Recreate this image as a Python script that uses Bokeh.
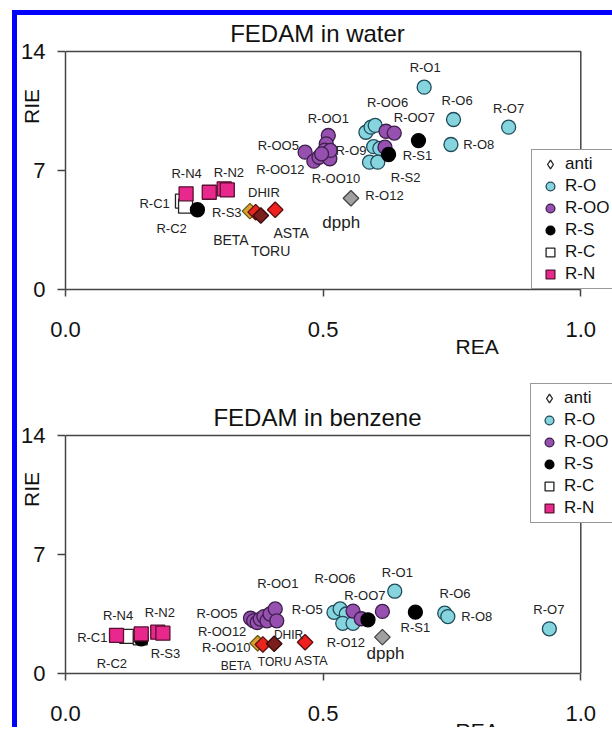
import math
from bokeh.plotting import figure
from bokeh.models import (Range1d, FixedTicker, NumeralTickFormatter, Legend, LegendItem, Label,
                          ColumnDataSource, Title)
from bokeh.layouts import column
from bokeh.embed import file_html
from bokeh.resources import INLINE
from bokeh.core.properties import value

FONT = "Liberation Sans"

# ---------------- data: FEDAM in water ----------------
water_anti_names = ["BETA", "DHIR", "TORU", "ASTA", "dpph"]
water_anti_rea = [0.358, 0.369, 0.379, 0.407, 0.554]
water_anti_rie = [4.61, 4.55, 4.35, 4.69, 5.37]

water_ro_rea = [0.696, 0.753, 0.860, 0.748, 0.583, 0.593, 0.601, 0.598, 0.610, 0.590, 0.606]
water_ro_rie = [11.9, 10.0, 9.55, 8.53, 9.25, 9.55, 9.65, 8.40, 8.30, 7.49, 7.49]

water_roo_rea = [0.510, 0.506, 0.503, 0.465, 0.482, 0.492, 0.513, 0.514, 0.497, 0.622, 0.638, 0.620]
water_roo_rie = [9.06, 8.57, 8.20, 8.08, 7.55, 7.78, 7.69, 8.18, 7.98, 9.31, 9.20, 8.37]

water_rs_rea = [0.685, 0.627, 0.256]
water_rs_rie = [8.76, 7.94, 4.69]

water_rc_rea = [0.227, 0.233]
water_rc_rie = [5.20, 4.90]

water_rn_rea = [0.234, 0.279, 0.308, 0.314]
water_rn_rie = [5.63, 5.72, 5.92, 5.86]

water_lbl_text = ["R-O1", "R-OO6", "R-O6", "R-O7", "R-OO1", "R-OO7", "R-OO5", "R-O9", "R-S1", "R-O8",
                  "R-OO12", "R-OO10", "R-S2", "R-O12", "R-N4", "R-N2", "DHIR", "R-C1", "R-S3", "R-C2"]
water_lbl_rea = [0.698, 0.625, 0.760, 0.860, 0.510, 0.677, 0.413, 0.554, 0.683, 0.802,
                 0.417, 0.525, 0.660, 0.619, 0.235, 0.317, 0.385, 0.173, 0.313, 0.206]
water_lbl_rie = [13.06, 11.0, 11.12, 10.65, 10.06, 10.12, 8.47, 8.18, 7.88, 8.53,
                 7.06, 6.53, 6.59, 5.53, 6.82, 6.88, 5.71, 5.06, 4.53, 3.59]
water_big_text = ["BETA", "ASTA", "TORU"]
water_big_rea = [0.321, 0.438, 0.398]
water_big_rie = [2.94, 3.35, 2.24]
water_dpph_rea = [0.535]
water_dpph_rie = [3.94]

# ---------------- data: FEDAM in benzene ----------------
benz_anti_names = ["BETA", "DHIR", "TORU", "ASTA", "dpph"]
benz_anti_rea = [0.373, 0.383, 0.405, 0.465, 0.615]
benz_anti_rie = [1.78, 1.71, 1.75, 1.84, 2.14]

benz_ro_rea = [0.639, 0.736, 0.742, 0.939, 0.521, 0.533, 0.545, 0.538, 0.558]
benz_ro_rie = [4.84, 3.55, 3.35, 2.63, 3.60, 3.80, 3.50, 2.95, 2.95]

benz_roo_rea = [0.359, 0.365, 0.372, 0.378, 0.385, 0.391, 0.397, 0.407, 0.410, 0.558, 0.574, 0.615]
benz_roo_rie = [3.25, 3.10, 3.00, 3.20, 3.35, 3.10, 3.50, 3.80, 3.10, 3.67, 3.22, 3.65]

benz_rs_rea = [0.679, 0.587, 0.147]
benz_rs_rie = [3.61, 3.16, 2.04]

benz_rc_rea = [0.119, 0.145]
benz_rc_rie = [2.18, 2.10]

benz_rn_rea = [0.099, 0.147, 0.179, 0.189]
benz_rn_rie = [2.24, 2.33, 2.43, 2.37]

benz_lbl_text = ["R-OO1", "R-OO5", "R-OO12", "R-OO10", "R-N4", "R-N2", "R-C1", "R-C2", "R-S3", "R-O5",
                 "R-O12", "R-OO6", "R-OO7", "R-O1", "R-O6", "R-S1", "R-O8", "R-O7", "ASTA"]
benz_lbl_rea = [0.412, 0.294, 0.304, 0.312, 0.102, 0.183, 0.052, 0.090, 0.194, 0.469,
                0.544, 0.523, 0.581, 0.644, 0.756, 0.679, 0.798, 0.938, 0.477]
benz_lbl_rie = [5.29, 3.53, 2.47, 1.53, 3.41, 3.59, 2.12, 0.59, 1.18, 3.76,
                1.82, 5.59, 4.59, 5.94, 4.71, 2.71, 3.35, 3.76, 0.76]
benz_big_text = ["BETA", "TORU", "DHIR"]
benz_big_rea = [0.331, 0.406, 0.433]
benz_big_rie = [0.47, 0.65, 2.29]
benz_dpph_rea = [0.621]
benz_dpph_rie = [1.18]

x_ticks = [0.0, 0.5, 1.0]
y_ticks = [0, 7, 14]

# ---------------- styles ----------------
anti_fill = {"BETA": "#D9A030", "DHIR": "#E8261E", "TORU": "#7B1E1E", "ASTA": "#F02020", "dpph": "#A0A0A0"}
anti_edge = {"BETA": "#6B5A10", "DHIR": "#5A1010", "TORU": "#3A0A0A", "ASTA": "#5A1010", "dpph": "#444444"}
CYAN, CYAN_E = "#86D4DE", "#1F4A5A"
PURP, PURP_E = "#9650AF", "#3D1F4A"
PINK, PINK_E = "#E8288C", "#5A1030"
AX = "#444444"

PX_PER_X = 520.0   # pixels per REA unit
PX_PER_Y = 17.0    # pixels per RIE unit
FRAME_W = 552      # frame runs to the right edge of the page
BOX_H = 238        # height of the drawn plot box (0..14)
LEFT = 43
BOTTOM = 85


def make_panel(d, frame_h, title, legend_xy, transparent):
    p = figure(width=LEFT + FRAME_W, height=frame_h + BOTTOM,
               x_range=Range1d(0, FRAME_W / PX_PER_X), y_range=Range1d(0, frame_h / PX_PER_Y),
               output_backend="svg", toolbar_location=None,
               min_border_left=LEFT, min_border_right=0,
               min_border_top=0, min_border_bottom=BOTTOM)
    p.xgrid.grid_line_color = None
    p.ygrid.grid_line_color = None
    p.outline_line_color = None
    if transparent:
        p.background_fill_alpha = 0
        p.border_fill_alpha = 0
    else:
        p.background_fill_color = "white"
        p.border_fill_color = "white"

    p.xaxis.ticker = FixedTicker(ticks=x_ticks)
    p.xaxis.formatter = NumeralTickFormatter(format="0.0")
    p.yaxis.ticker = FixedTicker(ticks=y_ticks)
    p.xaxis.bounds = (x_ticks[0], x_ticks[-1])
    p.yaxis.bounds = (y_ticks[0], y_ticks[-1])
    for ax in (p.xaxis[0], p.yaxis[0]):
        ax.axis_line_color = AX
        ax.axis_line_width = 1.5
        ax.major_tick_line_color = AX
        ax.major_tick_line_width = 1.5
        ax.minor_tick_line_color = None
        ax.major_tick_in = 0
        ax.major_label_text_font = FONT
        ax.major_label_text_font_size = "22px"
        ax.major_label_text_color = "#111111"
    p.xaxis.major_tick_out = 7
    p.xaxis.major_label_standoff = 25
    p.yaxis.major_tick_out = 8
    p.yaxis.major_label_standoff = 12
    p.yaxis.axis_label = "RIE"
    p.yaxis.axis_label_text_font = FONT
    p.yaxis.axis_label_text_font_size = "21px"
    p.yaxis.axis_label_text_font_style = "normal"
    p.yaxis.axis_label_text_color = "#111111"
    p.yaxis.axis_label_standoff = -25

    # top and right edges of the plot box
    p.line([x_ticks[0], x_ticks[-1], x_ticks[-1]], [y_ticks[-1], y_ticks[-1], y_ticks[0]],
           line_color=AX, line_width=1.5)

    r_c = p.scatter(d["rc_x"], d["rc_y"], marker="square", size=14,
                    fill_color="white", line_color="#222222", line_width=1.3)
    r_o = p.scatter(d["ro_x"], d["ro_y"], marker="circle", size=14,
                    fill_color=CYAN, line_color=CYAN_E, line_width=1.3)
    r_oo = p.scatter(d["roo_x"], d["roo_y"], marker="circle", size=14,
                     fill_color=PURP, line_color=PURP_E, line_width=1.3)
    r_s = p.scatter(d["rs_x"], d["rs_y"], marker="circle", size=14,
                    fill_color="black", line_color="black", line_width=1.3)
    r_n = p.scatter(d["rn_x"], d["rn_y"], marker="square", size=14,
                    fill_color=PINK, line_color=PINK_E, line_width=1.3)
    # generic (white) anti marker used for the legend, drawn underneath the coloured ones
    r_anti = p.scatter(d["anti_x"], d["anti_y"], marker="diamond", size=11,
                       fill_color="white", line_color="#222222", line_width=1.3)
    src = ColumnDataSource(dict(x=d["anti_x"], y=d["anti_y"],
                                fc=[anti_fill[n] for n in d["anti_n"]],
                                lc=[anti_edge[n] for n in d["anti_n"]]))
    p.scatter("x", "y", source=src, marker="square", angle=math.pi / 4, size=11,
              fill_color="fc", line_color="lc", line_width=1.3)

    p.text(x=d["lbl_x"], y=d["lbl_y"], text=d["lbl_t"], text_font=value(FONT),
           text_font_size="13px", text_align="center", text_baseline="middle", text_color="#222222")
    p.text(x=d["big_x"], y=d["big_y"], text=d["big_t"], text_font=value(FONT),
           text_font_size=d["big_size"], text_align="center", text_baseline="middle", text_color="#222222")
    p.text(x=d["dpph_x"], y=d["dpph_y"], text=["dpph"], text_font=value(FONT),
           text_font_size="17px", text_align="center", text_baseline="middle", text_color="#222222")

    legend = Legend(items=[LegendItem(label="anti", renderers=[r_anti]),
                           LegendItem(label="R-O", renderers=[r_o]),
                           LegendItem(label="R-OO", renderers=[r_oo]),
                           LegendItem(label="R-S", renderers=[r_s]),
                           LegendItem(label="R-C", renderers=[r_c]),
                           LegendItem(label="R-N", renderers=[r_n])],
                    location=legend_xy, padding=3, spacing=0, margin=0,
                    glyph_width=30, glyph_height=22, label_height=22, label_width=70,
                    label_standoff=-4, label_text_font=FONT, label_text_font_size="17px",
                    label_text_color="#111111", border_line_color="#333333", border_line_width=1.3,
                    background_fill_color="white", background_fill_alpha=1.0)
    p.add_layout(legend)

    # chart title, inside the (extended) frame area just above the plot box
    p.add_layout(Label(x=252, y=BOX_H + 18, x_units="screen", y_units="screen", text=title,
                       text_font=FONT, text_font_size="24px", text_align="center",
                       text_baseline="alphabetic", text_color="#111111"))

    # x-axis label, offset to the right as in the original
    tkw = dict(text="REA", align="left", offset=390, text_font=FONT, text_font_size="21px",
               text_font_style="normal", text_color="#111111")
    if "standoff" in Title.properties():
        tkw["standoff"] = -14
    p.add_layout(Title(**tkw), "below")
    return p


water = dict(anti_n=water_anti_names, anti_x=water_anti_rea, anti_y=water_anti_rie,
             ro_x=water_ro_rea, ro_y=water_ro_rie, roo_x=water_roo_rea, roo_y=water_roo_rie,
             rs_x=water_rs_rea, rs_y=water_rs_rie, rc_x=water_rc_rea, rc_y=water_rc_rie,
             rn_x=water_rn_rea, rn_y=water_rn_rie,
             lbl_t=water_lbl_text, lbl_x=water_lbl_rea, lbl_y=water_lbl_rie,
             big_t=water_big_text, big_x=water_big_rea, big_y=water_big_rie, big_size="14px",
             dpph_x=water_dpph_rea, dpph_y=water_dpph_rie)
benz = dict(anti_n=benz_anti_names, anti_x=benz_anti_rea, anti_y=benz_anti_rie,
            ro_x=benz_ro_rea, ro_y=benz_ro_rie, roo_x=benz_roo_rea, roo_y=benz_roo_rie,
            rs_x=benz_rs_rea, rs_y=benz_rs_rie, rc_x=benz_rc_rea, rc_y=benz_rc_rie,
            rn_x=benz_rn_rea, rn_y=benz_rn_rie,
            lbl_t=benz_lbl_text, lbl_x=benz_lbl_rea, lbl_y=benz_lbl_rie,
            big_t=benz_big_text, big_x=benz_big_rea, big_y=benz_big_rie, big_size="12px",
            dpph_x=benz_dpph_rea, dpph_y=benz_dpph_rie)

# frame heights chosen so the RIE label sits where it does in the original
p1 = make_panel(water, 366, "FEDAM in water", (466, 0), False)
p2 = make_panel(benz, 368, "FEDAM in benzene", (465, 150), True)
p1.margin = (-92, 0, 0, 0)
p2.margin = (-69, 0, 0, 0)

layout = column(p1, p2, height=717, margin=(10, 0, 0, 12),
                styles={"border-left": "5px solid #0000ff", "border-top": "5px solid #0000ff",
                        "overflow": "hidden"})

open("out.html", "w").write(file_html(layout, INLINE))
